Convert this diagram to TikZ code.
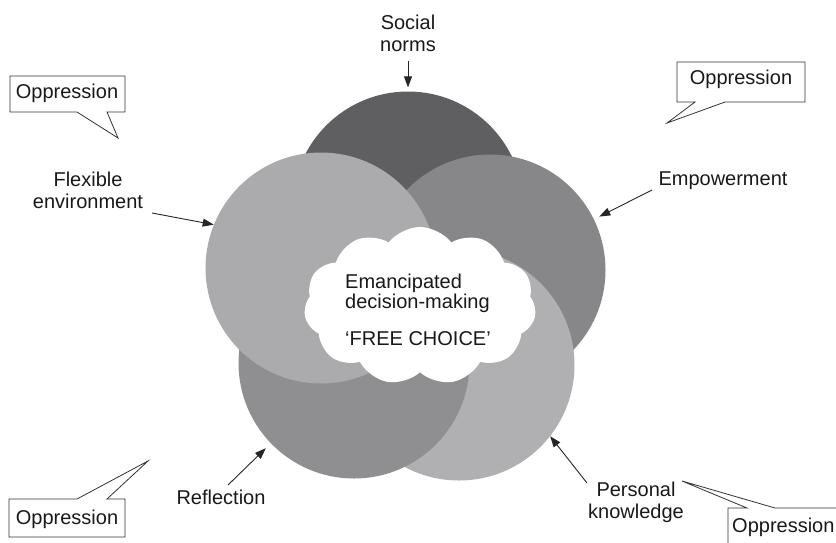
\documentclass[tikz,border=0pt]{standalone}
\usepackage{fontspec}
\setmainfont{Liberation Sans}
\usetikzlibrary{shapes.symbols,arrows.meta}
\definecolor{cdark}{HTML}{5F5F61}
\definecolor{cleftc}{HTML}{ABABAD}
\definecolor{crightc}{HTML}{87878A}
\definecolor{cblc}{HTML}{8F8F92}
\definecolor{cbrc}{HTML}{B0B0B2}
\tikzset{
  disc/.style={circle, inner sep=0pt, minimum size=231pt, draw=none},
  lbl/.style={font=\fontsize{20}{22}\selectfont, align=center, inner sep=0pt, text=black!90},
  arr/.style={-{Triangle[length=11pt,width=8pt]}, line width=0.9pt, black!85},
  callout/.style={draw=black!80, line width=0.8pt, fill=white, line join=miter},
}
\begin{document}
\begin{tikzpicture}[x=1pt,y=-1pt]
\clip (0,0) rectangle (836,542);
\fill[white] (0,0) rectangle (836,542);
% circles
\node[disc, fill=cdark] (ctop) at (408,207) {};
\node[disc, fill=crightc] (cright) at (490,270) {};
\node[disc, fill=cbrc] (cbr) at (459,365) {};
\node[disc, fill=cblc] (cbl) at (354,363) {};
\node[disc, fill=cleftc] (cleft) at (321,268) {};
% cloud
\node[cloud, cloud puffs=11, cloud puff arc=105, aspect=1.45, minimum width=232pt, minimum height=158pt, fill=white, inner sep=0pt] (cl) at (420,306) {};
\node[lbl, align=left, anchor=north west, font=\fontsize{20}{18}\selectfont] (emt) at (345,274) {Emancipated\\decision-making};
\node[lbl, anchor=base west] (fc) at (345,345) {‘FREE CHOICE’};
% labels
\node[lbl] (lsoc) at (408,33) {Social\\norms};
\node[lbl] (lflex) at (88,190) {Flexible\\environment};
\node[lbl] (lemp) at (723,181) {Empowerment};
\node[lbl] (lref) at (221,497) {Reflection};
\node[lbl] (lper) at (636,502) {Personal\\knowledge};
% arrow tails
\coordinate (tsoc) at (408,61);
\coordinate (tflex) at (152,213);
\coordinate (temp) at (652,190);
\coordinate (tref) at (228,485);
\coordinate (tper) at (587,483);
\draw[arr] (tsoc) -- ([yshift=4pt]ctop.north);
\draw[arr] (tflex) -- (cleft.158);
\draw[arr, shorten >=6pt] (temp) -- (cright.26);
\draw[arr, shorten >=7pt] (tref) -- (cbl.224);
\draw[arr] (tper) -- (cbr.322);
% callouts
\draw[callout] (10,76) -- (125,76) -- (125,112) -- (107,112) -- (118,138) -- (77,112) -- (10,112) -- cycle;
\node[lbl] (o1) at (67,93) {Oppression};
\draw[callout] (677,62) -- (805,62) -- (805,102) -- (725,102) -- (667,123) -- (695,102) -- (677,102) -- cycle;
\node[lbl] (o2) at (741,79) {Oppression};
\draw[callout] (9,499) -- (77,499) -- (148,461) -- (107,499) -- (125,499) -- (125,537) -- (9,537) -- cycle;
\node[lbl] (o3) at (67,519) {Oppression};
\draw[callout] (728,508) -- (747,508) -- (682,481) -- (775,508) -- (860,508) -- (860,560) -- (728,560) -- cycle;
\node[lbl, anchor=west] (o4) at (732,527) {Oppression};
\end{tikzpicture}
\end{document}
